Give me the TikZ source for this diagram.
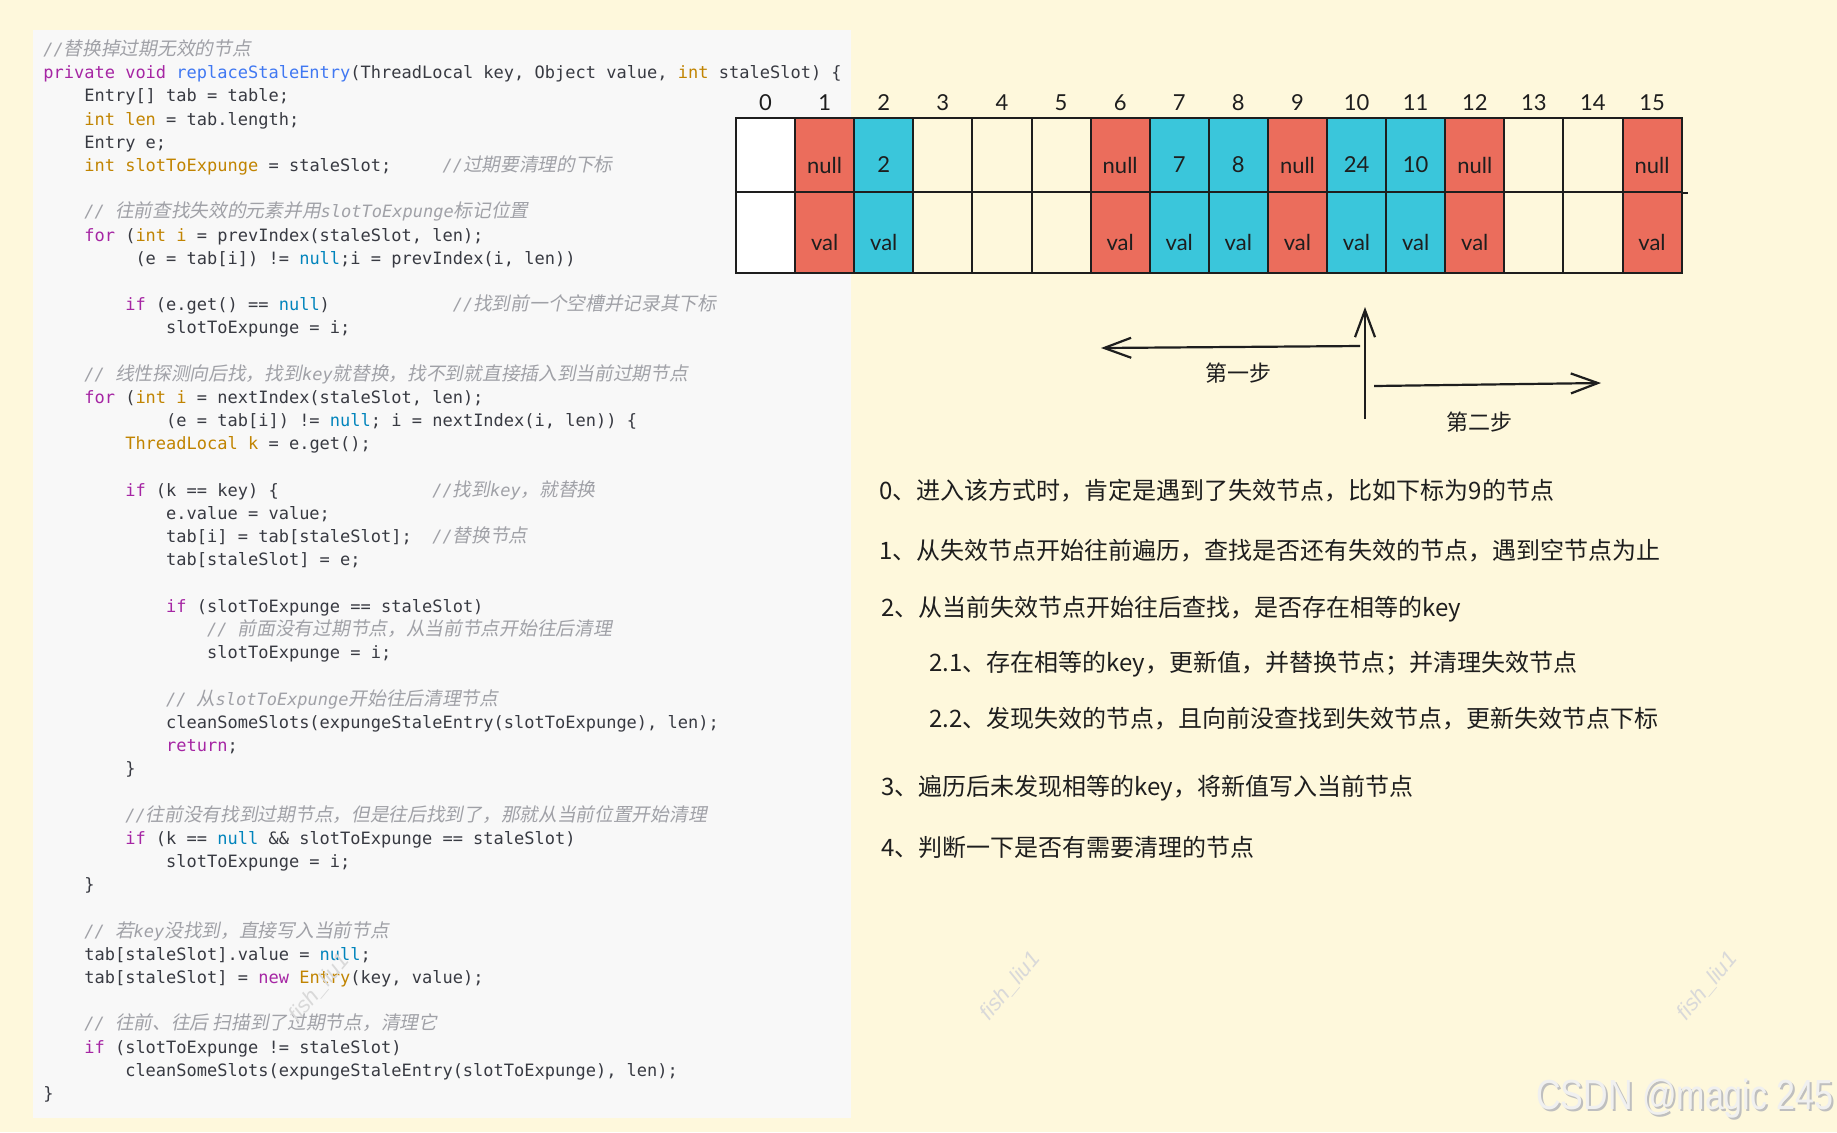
\documentclass[tikz,border=0pt]{standalone}
\usepackage{fontspec}
\usepackage{xcolor}
\setsansfont{Liberation Sans}
\setmonofont{DejaVu Sans Mono}
\newfontfamily\cjk{Noto Sans CJK SC}
\newfontfamily\cjkit[FakeSlant=0.2,Scale=1.1]{Noto Sans CJK SC}
\newfontfamily\lblfont{Lato}
\usetikzlibrary{arrows.meta}

\definecolor{bgcream}{HTML}{FEF8DC}
\definecolor{panel}{HTML}{F8F8F8}
\definecolor{cellred}{HTML}{EB6D5C}
\definecolor{cellcyan}{HTML}{3AC6DB}
\definecolor{inkdark}{HTML}{1E1E1E}
\definecolor{codedark}{HTML}{383A42}
\definecolor{cmgray}{HTML}{A0A1A7}
\definecolor{kwpurple}{HTML}{A626A4}
\definecolor{fnblue}{HTML}{4078F2}
\definecolor{tyorange}{HTML}{C18401}
\definecolor{nullblue}{HTML}{0184BC}

% code highlighting
\newcommand\kw[1]{\textcolor{kwpurple}{#1}}
\newcommand\ty[1]{\textcolor{tyorange}{#1}}
\newcommand\fnc[1]{\textcolor{fnblue}{#1}}
\newcommand\nullkw{\textcolor{nullblue}{null}}
\newcommand\cmt[1]{{\color{cmgray}\itshape#1}}
\newcommand\zh[1]{{\upshape\cjkit#1}}
\newcommand\ind[1]{\hskip#1\fontcharwd\font`x\relax}

\begin{document}
\begin{tikzpicture}[
  x=0.5pt, y=-0.5pt,
  code/.style={anchor=base west, inner sep=0, text=codedark, font={\ttfamily\fontsize{8.5}{10}\selectfont\frenchspacing}},
  cell/.style={draw=inkdark, line width=1pt, minimum width=29.55pt, inner sep=0},
  toprow/.style={cell, minimum height=37pt},
  botrow/.style={cell, minimum height=40.5pt},
  lbl/.style={inner sep=0, text=inkdark, font={\lblfont\fontsize{11}{13}\selectfont}},
  arrow/.style={-{Straight Barb[length=13.5pt, width=10pt]}, line width=1.1pt, draw=inkdark},
  note/.style={anchor=west, inner sep=0, text=inkdark, font={\cjk\fontsize{12}{14}\selectfont}},
  wm/.style={rotate=50, inner sep=0, text=gray!30, font={\sffamily\itshape\fontsize{11}{13}\selectfont}}
]
  \useasboundingbox (0,0) rectangle (1837,1132);
  \fill[bgcream] (0,0) rectangle (1837,1132);
  \fill[panel] (33,30) rectangle (851,1118);

  % source code
  \node[code] (l1) at (43,55.4) {\cmt{//\zh{替换掉过期无效的节点}}};
  \node[code] (l2) at (43,78.6) {\kw{private void} \fnc{replaceStaleEntry}(ThreadLocal key, Object value, \ty{int} staleSlot) \{};
  \node[code] (l3) at (43,101.8) {\ind{4}Entry[] tab = table;};
  \node[code] (l4) at (43,125.0) {\ind{4}\ty{int len} = tab.length;};
  \node[code] (l5) at (43,148.2) {\ind{4}Entry e;};
  \node[code] (l6) at (43,171.4) {\ind{4}\ty{int slotToExpunge} = staleSlot;\ind{5}\cmt{//\zh{过期要清理的下标}}};
  \node[code] (l8) at (43,217.8) {\ind{4}\cmt{// \zh{往前查找失效的元素并用}slotToExpunge\zh{标记位置}}};
  \node[code] (l9) at (43,241.0) {\ind{4}\kw{for} (\ty{int i} = prevIndex(staleSlot, len);};
  \node[code] (l10) at (43,264.2) {\ind{9}(e = tab[i]) != \nullkw;i = prevIndex(i, len))};
  \node[code] (l12) at (43,310.6) {\ind{8}\kw{if} (e.get() == \nullkw)\ind{12}\cmt{//\zh{找到前一个空槽并记录其下标}}};
  \node[code] (l13) at (43,333.8) {\ind{12}slotToExpunge = i;};
  \node[code] (l15) at (43,380.2) {\ind{4}\cmt{// \zh{线性探测向后找，找到}key\zh{就替换，找不到就直接插入到当前过期节点}}};
  \node[code] (l16) at (43,403.4) {\ind{4}\kw{for} (\ty{int i} = nextIndex(staleSlot, len);};
  \node[code] (l17) at (43,426.6) {\ind{12}(e = tab[i]) != \nullkw; i = nextIndex(i, len)) \{};
  \node[code] (l18) at (43,449.8) {\ind{8}\ty{ThreadLocal k} = e.get();};
  \node[code] (l20) at (43,496.2) {\ind{8}\kw{if} (k == key) \{\ind{15}\cmt{//\zh{找到}key\zh{，就替换}}};
  \node[code] (l21) at (43,519.4) {\ind{12}e.value = value;};
  \node[code] (l22) at (43,542.6) {\ind{12}tab[i] = tab[staleSlot];\ind{2}\cmt{//\zh{替换节点}}};
  \node[code] (l23) at (43,565.8) {\ind{12}tab[staleSlot] = e;};
  \node[code] (l25) at (43,612.2) {\ind{12}\kw{if} (slotToExpunge == staleSlot)};
  \node[code] (l26) at (43,635.4) {\ind{16}\cmt{// \zh{前面没有过期节点，从当前节点开始往后清理}}};
  \node[code] (l27) at (43,658.6) {\ind{16}slotToExpunge = i;};
  \node[code] (l29) at (43,705.0) {\ind{12}\cmt{// \zh{从}slotToExpunge\zh{开始往后清理节点}}};
  \node[code] (l30) at (43,728.2) {\ind{12}cleanSomeSlots(expungeStaleEntry(slotToExpunge), len);};
  \node[code] (l31) at (43,751.4) {\ind{12}\kw{return};};
  \node[code] (l32) at (43,774.6) {\ind{8}\}};
  \node[code] (l34) at (43,821.0) {\ind{8}\cmt{//\zh{往前没有找到过期节点，但是往后找到了，那就从当前位置开始清理}}};
  \node[code] (l35) at (43,844.2) {\ind{8}\kw{if} (k == \nullkw{} \&\& slotToExpunge == staleSlot)};
  \node[code] (l36) at (43,867.4) {\ind{12}slotToExpunge = i;};
  \node[code] (l37) at (43,890.6) {\ind{4}\}};
  \node[code] (l39) at (43,937.0) {\ind{4}\cmt{// \zh{若}key\zh{没找到，直接写入当前节点}}};
  \node[code] (l40) at (43,960.2) {\ind{4}tab[staleSlot].value = \nullkw;};
  \node[code] (l41) at (43,983.4) {\ind{4}tab[staleSlot] = \kw{new} \ty{Entry}(key, value);};
  \node[code] (l43) at (43,1029.8) {\ind{4}\cmt{// \zh{往前、往后 扫描到了过期节点，清理它}}};
  \node[code] (l44) at (43,1053.0) {\ind{4}\kw{if} (slotToExpunge != staleSlot)};
  \node[code] (l45) at (43,1076.2) {\ind{8}cleanSomeSlots(expungeStaleEntry(slotToExpunge), len);};
  \node[code] (l46) at (43,1099.4) {\}};

  % hash table slots
  \foreach \i/\c/\k/\v in {0/white//, 1/cellred/null/val, 2/cellcyan/2/val, 3/none//, 4/none//, 5/none//,
      6/cellred/null/val, 7/cellcyan/7/val, 8/cellcyan/8/val, 9/cellred/null/val, 10/cellcyan/24/val,
      11/cellcyan/10/val, 12/cellred/null/val, 13/none//, 14/none//, 15/cellred/null/val} {
    \node[toprow, fill=\c] (t\i) at ({765.55+59.1*\i},155) {};
    \node[botrow, fill=\c] (b\i) at ({765.55+59.1*\i},232.5) {};
    \node[lbl] (tk\i) at ([yshift=-5pt]t\i.center) {\k};
    \node[lbl] (bv\i) at ([yshift=-5pt]b\i.center) {\v};
    \node[lbl] (ix\i) at ({765.55+59.1*\i},103) {\i};
  }
  \draw[inkdark, line width=1pt] (t15.south east) -- ++(5,0);

  % steps
  \coordinate (vbot) at (1365,419);
  \coordinate (vtop) at (1365,307);
  \coordinate (s1a) at (1360,346);
  \coordinate (s1b) at (1101,348);
  \coordinate (s2a) at (1374,386);
  \coordinate (s2b) at (1601,383);
  \draw[arrow] (vbot) -- (vtop);
  \draw[arrow] (s1a) -- (s1b);
  \draw[arrow] (s2a) -- (s2b);
  \node[inner sep=0, text=inkdark, font={\cjk\fontsize{11}{13}\selectfont}] (step1) at (1238,373) {第一步};
  \node[inner sep=0, text=inkdark, font={\cjk\fontsize{11}{13}\selectfont}] (step2) at (1479,422) {第二步};

  % notes
  \node[note] (n0) at (879,491) {0、进入该方式时，肯定是遇到了失效节点，比如下标为9的节点};
  \node[note] (n1) at (879,551) {1、从失效节点开始往前遍历，查找是否还有失效的节点，遇到空节点为止};
  \node[note] (n2) at (881,609) {2、从当前失效节点开始往后查找，是否存在相等的key};
  \node[note] (n21) at (929,664) {2.1、存在相等的key，更新值，并替换节点；并清理失效节点};
  \node[note] (n22) at (929,719) {2.2、发现失效的节点，且向前没查找到失效节点，更新失效节点下标};
  \node[note] (n3) at (881,788) {3、遍历后未发现相等的key，将新值写入当前节点};
  \node[note] (n4) at (881,847) {4、判断一下是否有需要清理的节点};

  % watermarks
  \node[wm] (wm1) at (319,988) {fish\_liu1};
  \node[wm] (wm2) at (1010,986) {fish\_liu1};
  \node[wm] (wm3) at (1707,986) {fish\_liu1};
  \node[anchor=east, inner sep=0, xscale=0.81, text=gray!50, font={\sffamily\fontsize{21}{24}\selectfont}] (csdnsh) at (1836,1101) {CSDN @magic 245};
  \node[anchor=east, inner sep=0, xscale=0.81, text=gray!12, font={\sffamily\fontsize{21}{24}\selectfont}] (csdn) at (1834,1099) {CSDN @magic 245};
\end{tikzpicture}
\end{document}
